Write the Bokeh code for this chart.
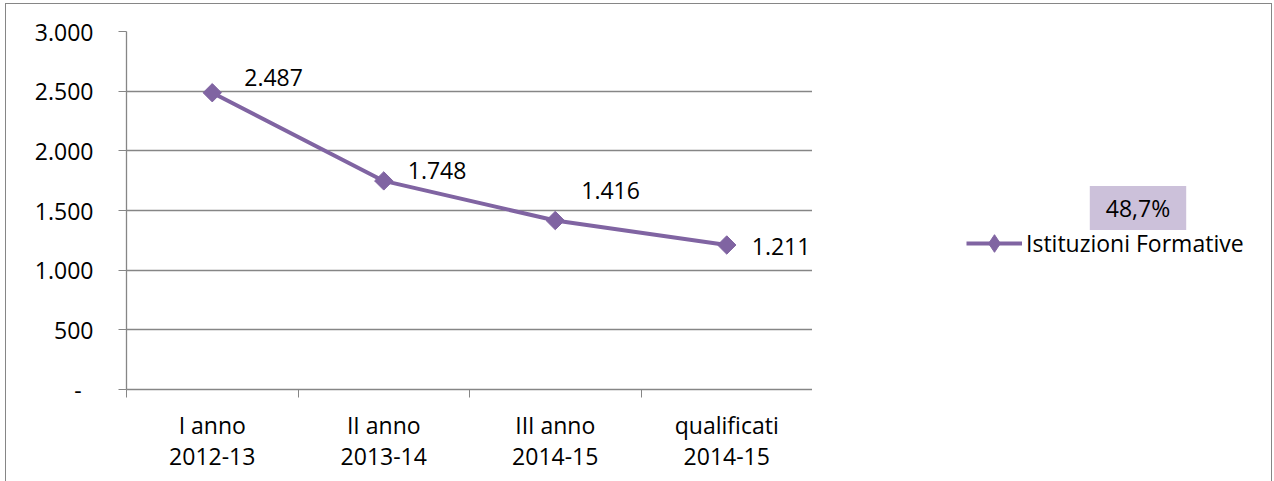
import numpy as np
from bokeh.plotting import figure
from bokeh.layouts import row
from bokeh.models import (ColumnDataSource, FixedTicker, Legend, LegendItem, Label, Range1d)
from bokeh.core.properties import value
from bokeh.embed import file_html
from bokeh.resources import INLINE

categories = ["I anno\n2012-13", "II anno\n2013-14", "III anno\n2014-15", "qualificati\n2014-15"]
values = [2487, 1748, 1416, 1211]
value_labels = ["2.487", "1.748", "1.416", "1.211"]
series_name = "Istituzioni Formative"
y_ticks = [0, 500, 1000, 1500, 2000, 2500, 3000]
y_tick_labels = ["-\u00a0\u00a0", "500", "1.000", "1.500", "2.000", "2.500", "3.000"]
callout_text = "48,7%"

FONT = "Open Sans"
FS = "23px"
PURPLE = "#8064A2"
GRID = "#868686"

n = len(categories)
xpos = np.arange(n) + 0.5

# label offsets (style only, screen pixels)
lab_dx = [32, 24, 26, 25]
lab_dy = [-15, -10, -30, 2]

src = ColumnDataSource(dict(x=xpos, y=values, lab=value_labels, dx=lab_dx, dy=lab_dy))

H = 478
W_MAIN = 806
B_LEFT, B_TOP, B_BOTTOM = 120, 27, 93
p = figure(width=W_MAIN, height=H, output_backend="svg", toolbar_location=None,
           x_range=Range1d(0, n), y_range=Range1d(y_ticks[0], y_ticks[-1]),
           min_border_left=B_LEFT, min_border_right=0, min_border_top=B_TOP,
           min_border_bottom=B_BOTTOM)
p.outline_line_color = None
p.background_fill_color = "white"
p.border_fill_color = "white"

# x axis: ticks at category boundaries (minor), labels at centers (major)
p.xaxis.ticker = FixedTicker(ticks=list(xpos), minor_ticks=list(range(n + 1)))
p.xaxis.major_label_overrides = {float(x): c for x, c in zip(xpos, categories)}
p.xaxis.major_tick_line_color = None
p.xaxis.minor_tick_line_color = GRID
p.xaxis.minor_tick_in = 0
p.xaxis.minor_tick_out = 8
p.xaxis.axis_line_color = GRID
p.xaxis.axis_line_width = 1.3
p.xaxis.major_label_text_font = FONT
p.xaxis.major_label_text_font_size = FS
p.xaxis.major_label_text_color = "black"
p.xaxis.major_label_text_line_height = 0.99
p.xaxis.major_label_standoff = 11
p.xgrid.grid_line_color = None

p.yaxis.ticker = FixedTicker(ticks=y_ticks, minor_ticks=[])
p.yaxis.major_label_overrides = {t: l for t, l in zip(y_ticks, y_tick_labels)}
p.yaxis.axis_line_color = GRID
p.yaxis.axis_line_width = 1.3
p.yaxis.major_tick_line_color = GRID
p.yaxis.major_tick_in = 0
p.yaxis.major_tick_out = 8
p.yaxis.minor_tick_line_color = None
p.yaxis.major_label_text_font = FONT
p.yaxis.major_label_text_font_size = FS
p.yaxis.major_label_text_color = "black"
p.yaxis.major_label_standoff = 25
p.ygrid.grid_line_color = GRID
p.ygrid.grid_line_width = 1.3

p.line("x", "y", source=src, line_color=PURPLE, line_width=4)
p.scatter("x", "y", source=src, marker="square", angle=np.pi / 4, size=13,
          fill_color=PURPLE, line_color=PURPLE)
p.text("x", "y", text="lab", source=src, x_offset="dx", y_offset="dy",
       text_font=value(FONT), text_font_size=FS, text_color="black",
       text_align="left", text_baseline="middle")

# side panel holding the legend and the call-out box; its x range continues
# the chart's scale past the last category, so the series itself lies outside it
SW = 459
px_per_unit = (W_MAIN - B_LEFT) / n
side = figure(width=SW, height=H, output_backend="svg", toolbar_location=None,
              x_range=Range1d(n, n + SW / px_per_unit),
              y_range=Range1d(y_ticks[0], y_ticks[-1]),
              min_border_left=0, min_border_right=0, min_border_top=B_TOP,
              min_border_bottom=B_BOTTOM, x_axis_type=None, y_axis_type=None)
side.grid.visible = False
side.outline_line_color = None
side.background_fill_color = "white"
side.border_fill_color = "white"

leg_line = side.line("x", "y", source=src, line_color=PURPLE, line_width=4)
leg_marker = side.scatter("x", "y", source=src, marker="diamond",
                          fill_color=PURPLE, line_color=PURPLE)

legend = Legend(items=[LegendItem(label=series_name, renderers=[leg_line, leg_marker])],
                location=(154, 124), orientation="vertical",
                label_text_font=FONT, label_text_font_size=FS, label_text_color="black",
                glyph_width=56, glyph_height=44, label_standoff=4,
                padding=0, margin=0, border_line_color=None, background_fill_alpha=0,
                spacing=0)
side.add_layout(legend, "center")

callout = Label(x=325.5, y=181.5, x_units="screen", y_units="screen", text=callout_text,
                text_font=FONT, text_font_size=FS, text_color="black",
                text_align="center", text_baseline="middle",
                background_fill_color="#CCC1DA",
                padding=dict(left=16, right=16, top=6, bottom=6))
side.add_layout(callout)

layout = row(p, side, spacing=0)
layout.styles = {"border": "1px solid #868686", "margin-left": "5px", "margin-top": "3px"}

open("out.html", "w").write(file_html(layout, INLINE))
